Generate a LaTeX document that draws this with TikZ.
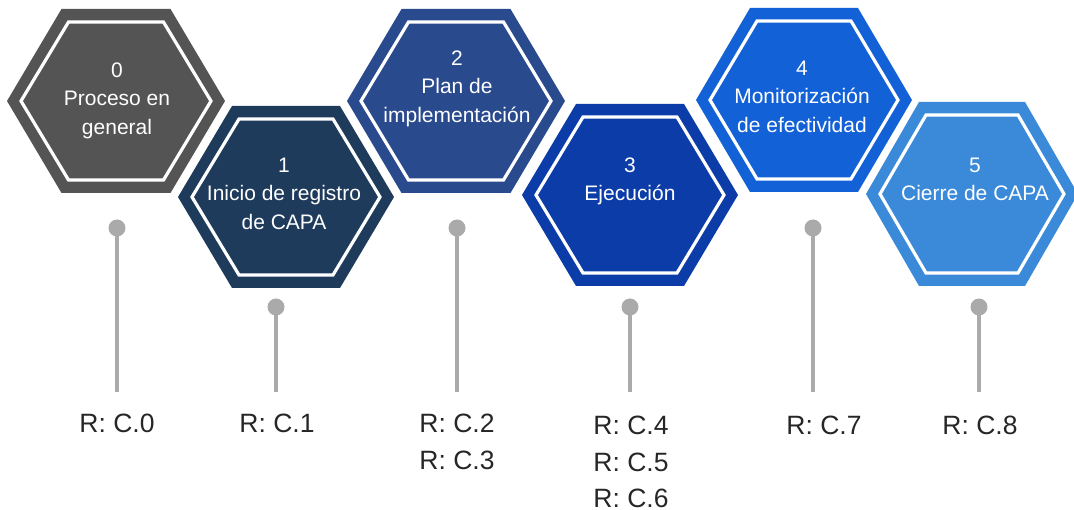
\documentclass[tikz,border=0pt]{standalone}
\usepackage{fontspec}
\setmainfont{Liberation Sans}
\begin{document}
\begin{tikzpicture}[x=1pt,y=-1pt]
\definecolor{hexA}{HTML}{545454}
\definecolor{hexB}{HTML}{1F3B5C}
\definecolor{hexC}{HTML}{2A4A8E}
\definecolor{hexD}{HTML}{0C3CA8}
\definecolor{hexE}{HTML}{1361D7}
\definecolor{hexF}{HTML}{3A8AD9}
\definecolor{stem}{HTML}{AAAAAA}
\tikzset{
  hextext/.style={text=white,font=\fontsize{21}{28.5}\selectfont,align=center,anchor=north,inner sep=0pt},
  reftext/.style={text=black!85,font=\fontsize{26.5}{36.5}\selectfont,align=center,anchor=north,inner sep=0pt},
  pin/.style={circle,fill=stem,minimum size=17pt,inner sep=0pt},
  stemline/.style={draw=stem,line width=3.3pt},
}
\useasboundingbox (0,0) rectangle (1074,510);
% hexagon with an inner white outline: centre x, centre y, half width, half height, colour
\newcommand\hexcell[5]{%
  \fill[#5] ({#1-#3},#2) -- ++({#3/2},{-#4}) -- ++(#3,0) -- ++({#3/2},#4)
     -- ++({-#3/2},#4) -- ++({-#3},0) -- cycle;
  \pgfmathsetmacro\irx{#3-14}\pgfmathsetmacro\iry{#4-13}%
  \draw[white,line width=3.2pt,line join=miter] ({#1-\irx},#2) -- ++({\irx/2},{-\iry}) -- ++(\irx,0) -- ++({\irx/2},\iry)
     -- ++({-\irx/2},\iry) -- ++({-\irx},0) -- cycle;}

% hexagons
\hexcell{116}{101}{109}{92}{hexA}
\hexcell{286}{197}{108}{91}{hexB}
\hexcell{456}{101}{109}{92}{hexC}
\hexcell{630}{195}{108}{91}{hexD}
\hexcell{804}{100}{108}{92}{hexE}
\hexcell{972}{194}{106}{92}{hexF}

% stage titles
\node[hextext] (t0) at (117,62.5) {0\\Proceso en\\general};
\node[hextext] (t1) at (284,157.5) {1\\Inicio de registro\\de CAPA};
\node[hextext] (t2) at (457,50.5) {2\\Plan de\\implementación};
\node[hextext] (t3) at (630,157.5) {3\\Ejecución};
\node[hextext] (t4) at (802,60.5) {4\\Monitorización\\de efectividad};
\node[hextext] (t5) at (975,157.5) {5\\Cierre de CAPA};

% pins and stems
\node[pin] (p0) at (117,228) {};
\node[pin] (p1) at (276,307) {};
\node[pin] (p2) at (457,228) {};
\node[pin] (p3) at (630,307) {};
\node[pin] (p4) at (813,228) {};
\node[pin] (p5) at (979,307) {};
\coordinate (e0) at (117,392);
\coordinate (e1) at (276,392);
\coordinate (e2) at (457,392);
\coordinate (e3) at (630,392);
\coordinate (e4) at (813,392);
\coordinate (e5) at (979,392);
\foreach \i in {0,...,5}{\draw[stemline] (p\i.center) -- (e\i);}

% references
\node[reftext] (r0) at (117,414) {R: C.0};
\node[reftext] (r1) at (277,414) {R: C.1};
\node[reftext] (r2) at (457,414) {R: C.2\\R: C.3};
\node[reftext] (r3) at (631,416) {R: C.4\\R: C.5\\R: C.6};
\node[reftext] (r4) at (824,416) {R: C.7};
\node[reftext] (r5) at (980,416) {R: C.8};
\end{tikzpicture}
\end{document}
